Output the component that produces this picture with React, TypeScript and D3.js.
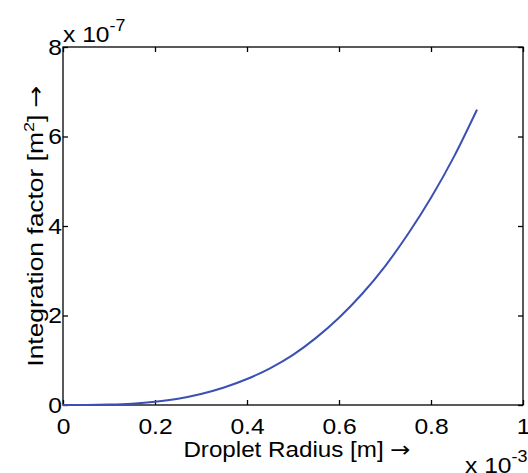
import React, { useRef, useEffect } from 'react'
import { scaleLinear, select, line, curveMonotoneX, axisBottom, axisLeft, axisTop, axisRight } from 'd3'

// droplet radius in units of 1e-3 m
const radius = [0, 0.05, 0.1, 0.15, 0.2, 0.25, 0.3, 0.35, 0.4, 0.45, 0.5, 0.55, 0.6, 0.65, 0.7, 0.75, 0.8, 0.85, 0.9]
// integration factor in units of 1e-7 m^2
const factor = [0, 0.001, 0.009, 0.03, 0.072, 0.14, 0.245, 0.39, 0.58, 0.82, 1.12, 1.5, 1.95, 2.48, 3.1, 3.82, 4.63, 5.55, 6.6]
const xTicks = [0, 0.2, 0.4, 0.6, 0.8, 1]
const yTicks = [0, 2, 4, 6, 8]
const xTickLabels = ['0', '0.2', '0.4', '0.6', '0.8', '1']
const yTickLabels = ['0', '2', '4', '6', '8']

const font = '"Liberation Sans", Arial, sans-serif'
const fs = 22
const wide = 1.12 // matlab's helvetica renders wider than liberation

export default function App() {
  const canvas = useRef<SVGSVGElement>(null)

  const W = 528
  const H = 473
  const margin = { top: 47, right: 5, bottom: 68, left: 63 }
  const width = W - margin.left - margin.right
  const height = H - margin.top - margin.bottom

  useEffect(() => {
    const root = select(canvas.current)
    root.selectAll('*').remove()
    const svg = root.append('g').attr('transform', `translate(${margin.left},${margin.top})`)

    const x = scaleLinear().domain([0, 1]).range([0, width])
    const y = scaleLinear().domain([0, 8]).range([height, 0])

    // axes box with inward ticks on all four sides
    const styleAxis = (g: any) => {
      g.select('.domain').remove()
      g.selectAll('line').attr('stroke', '#000').attr('stroke-width', 1.3)
      g.selectAll('text').attr('font-family', font).attr('font-size', fs).attr('fill', '#000')
        .attr('transform', `scale(${wide},1)`)
    }

    svg.append('g').attr('transform', `translate(0,${height})`)
      .call(axisBottom(x).tickValues(xTicks).tickSize(-5).tickPadding(13).tickFormat((d, i) => xTickLabels[i]))
      .call(styleAxis)
    svg.append('g')
      .call(axisTop(x).tickValues(xTicks).tickSize(-5).tickFormat(() => ''))
      .call(styleAxis)
    svg.append('g')
      .call(axisLeft(y).tickValues(yTicks).tickSize(-5).tickPadding(1).tickFormat((d, i) => yTickLabels[i]))
      .call(styleAxis)
    svg.append('g').attr('transform', `translate(${width},0)`)
      .call(axisRight(y).tickValues(yTicks).tickSize(-5).tickFormat(() => ''))
      .call(styleAxis)

    svg.append('rect').attr('width', width).attr('height', height)
      .attr('fill', 'none').attr('stroke', '#000').attr('stroke-width', 1.3)

    const pts = radius.map((r, i) => [r, factor[i]] as [number, number])
    svg.append('path').datum(pts)
      .attr('fill', 'none').attr('stroke', '#3a50b4').attr('stroke-width', 2)
      .attr('d', line<[number, number]>().curve(curveMonotoneX).x(d => x(d[0])).y(d => y(d[1])))

    // exponent annotations
    const top = svg.append('text').attr('transform', `translate(0,-5) scale(${wide},1)`)
      .attr('font-family', font).attr('font-size', fs).attr('fill', '#000')
    top.append('tspan').text('x 10')
    top.append('tspan').attr('dy', -11).attr('font-size', 16).text('-7')

    const bot = svg.append('text').attr('transform', `translate(${width - 58},${height + 68}) scale(${wide},1)`)
      .attr('font-family', font).attr('font-size', fs).attr('fill', '#000')
    bot.append('tspan').text('x 10')
    bot.append('tspan').attr('dy', -11).attr('font-size', 16).text('-3')

    // axis labels
    const xl = svg.append('text').attr('transform', `translate(${width / 2 + 4},${height + 52}) scale(1.1,1)`)
      .attr('text-anchor', 'middle').attr('font-family', font).attr('font-size', fs).attr('fill', '#000')
    xl.append('tspan').text('Droplet Radius [m] ')
    xl.append('tspan').attr('font-family', '"DejaVu Sans", sans-serif').text('\u2192')

    const yl = svg.append('text')
      .attr('transform', `translate(${-20},${height / 2}) rotate(-90) scale(1.2,1)`)
      .attr('text-anchor', 'middle').attr('font-family', font).attr('font-size', fs).attr('fill', '#000')
    yl.append('tspan').text('Integration factor [m')
    yl.append('tspan').attr('dy', -9).attr('font-size', 15).text('2')
    yl.append('tspan').attr('dy', 9).text('] ')
    yl.append('tspan').attr('font-family', '"DejaVu Sans", sans-serif').text('\u2192')
  })

  return (
    <svg ref={canvas} width={W} height={H}
      style={{ position: 'absolute', left: 0, top: 0, background: '#fff' }} />
  )
}
